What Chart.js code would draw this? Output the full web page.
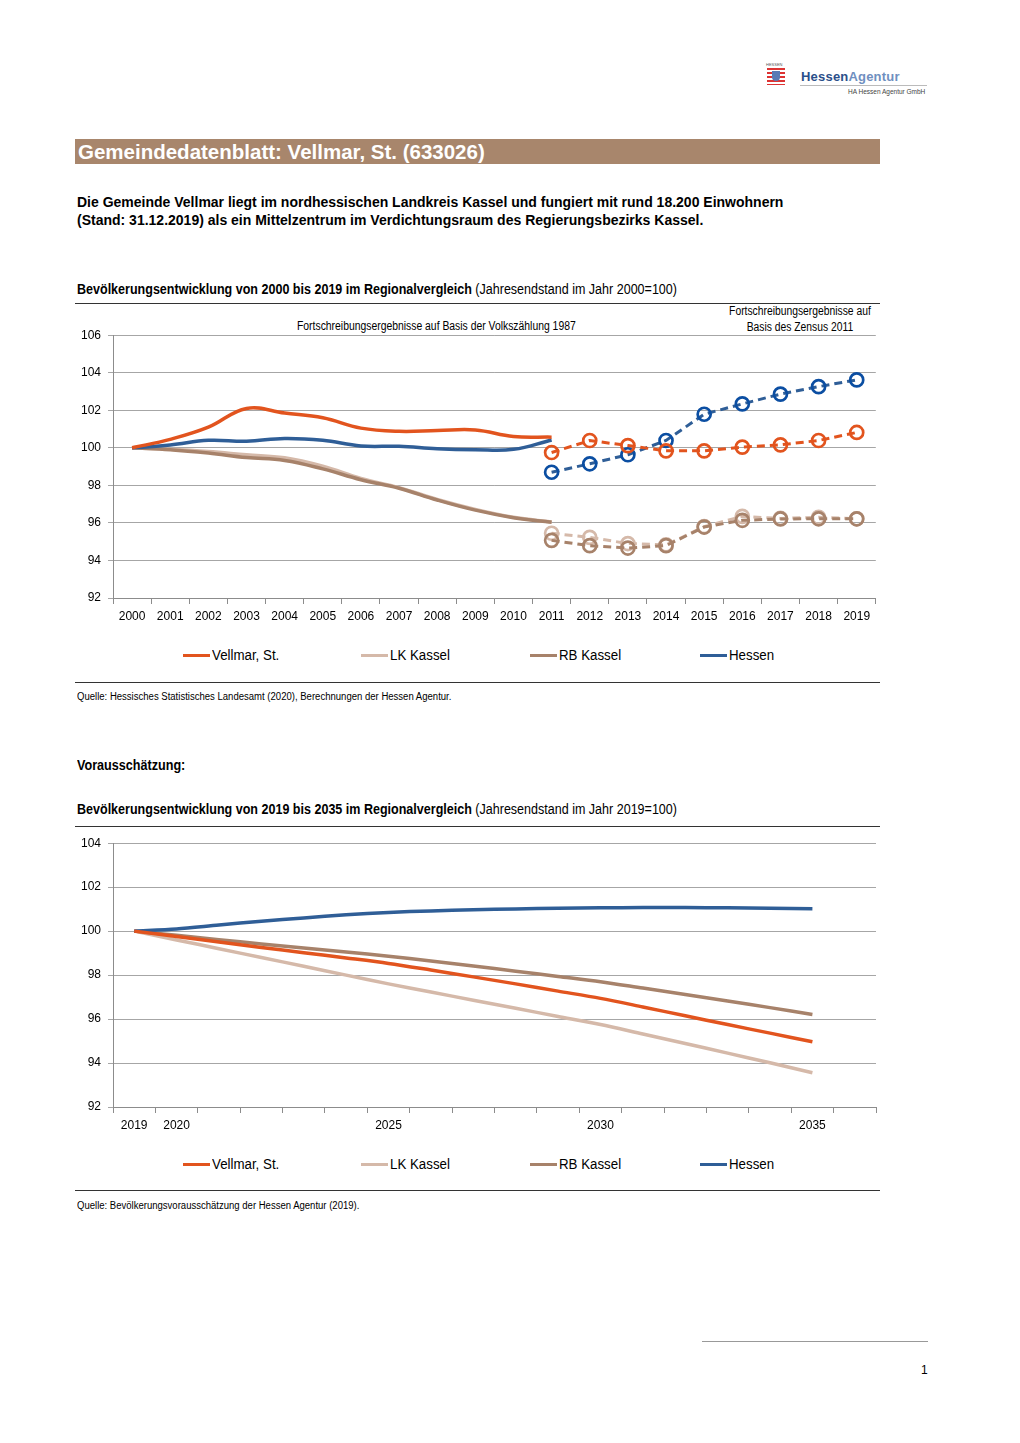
<!DOCTYPE html>
<html lang="de">
<head>
<meta charset="utf-8">
<title>Gemeindedatenblatt: Vellmar, St. (633026)</title>
<script src="https://cdn.jsdelivr.net/npm/chart.js@4.4.1/dist/chart.umd.min.js"></script>
<style>
  body { margin: 0; background: #fff; font-family: "Liberation Sans", Arial, sans-serif; color: #000; }
  .page { position: relative; width: 1020px; height: 1443px; overflow: hidden; }
  .abs { position: absolute; white-space: nowrap; transform-origin: left top; }
  .rule { position: absolute; height: 0; border-top: 1px solid #555; }
  .legend-line { position: absolute; height: 3px; }
  .legend-text { position: absolute; font-size: 14px; line-height: 16px; white-space: nowrap;
                 transform-origin: left top; transform: scaleX(0.95); }
</style>
</head>
<body>
<div class="page">

  <!-- Logo -->
  <div class="abs" style="left:766px; top:63px; font-size:4px; line-height:4px; color:#555;">HESSEN</div>
  <div class="abs" style="left:767px; top:68px; width:18px; height:17px; background: repeating-linear-gradient(#d33 0 2px, #fff 2px 4px);"></div>
  <div class="abs" style="left:772px; top:71px; width:8px; height:10px; background:#5a7bb5; border-radius:0 0 4px 4px;"></div>
  <div class="abs" style="left:801px; top:69px; font-size:13px; line-height:16px; font-weight:bold; letter-spacing:0.2px;"><span style="color:#2b4f8a;">Hessen</span><span style="color:#6f8fc0;">Agentur</span></div>
  <div class="rule" style="left:800px; top:85px; width:127px; border-color:#bbb;"></div>
  <div class="abs" style="left:848px; top:88px; font-size:6.5px; line-height:7px; color:#444;">HA Hessen Agentur GmbH</div>

  <!-- Title bar -->
  <div class="abs" style="left:75px; top:139px; width:805px; height:25px; background:#a8866c;"></div>
  <div class="abs" style="left:78px; top:140px; font-size:20.5px; line-height:24px; font-weight:bold; color:#fff;">Gemeindedatenblatt: Vellmar, St. (633026)</div>

  <!-- Intro -->
  <div class="abs" style="left:77px; top:193px; font-size:14px; line-height:18px; font-weight:bold;">Die Gemeinde Vellmar liegt im nordhessischen Landkreis Kassel und fungiert mit rund 18.200 Einwohnern<br>(Stand: 31.12.2019) als ein Mittelzentrum im Verdichtungsraum des Regierungsbezirks Kassel.</div>

  <!-- Chart 1 -->
  <div class="abs" style="left:77px; top:281px; font-size:14px; line-height:16px; transform:scaleX(0.895);"><b>Bevölkerungsentwicklung von 2000 bis 2019 im Regionalvergleich</b> (Jahresendstand im Jahr 2000=100)</div>
  <div class="rule" style="left:75px; top:303px; width:805px; border-color:#333;"></div>
  <div class="abs" style="left:297px; top:319px; font-size:12px; line-height:14px; transform:scaleX(0.865);">Fortschreibungsergebnisse auf Basis der Volkszählung 1987</div>
  <div class="abs" style="left:729px; top:303px; width:165px; font-size:12px; line-height:16px; text-align:center; transform:scaleX(0.86);">Fortschreibungsergebnisse auf<br>Basis des Zensus 2011</div>
  <div class="abs" style="left:75px; top:321px; width:810px; height:307px;"><canvas id="chart1"></canvas></div>
  <div id="legend1"></div>
  <div class="rule" style="left:75px; top:682px; width:805px; border-color:#333;"></div>
  <div class="abs" style="left:77px; top:691px; font-size:10px; line-height:12px; transform:scaleX(0.954);">Quelle: Hessisches Statistisches Landesamt (2020), Berechnungen der Hessen Agentur.</div>

  <!-- Chart 2 -->
  <div class="abs" style="left:77px; top:757px; font-size:14px; line-height:16px; font-weight:bold; transform:scaleX(0.9);">Vorausschätzung:</div>
  <div class="abs" style="left:77px; top:801px; font-size:14px; line-height:16px; transform:scaleX(0.895);"><b>Bevölkerungsentwicklung von 2019 bis 2035 im Regionalvergleich</b> (Jahresendstand im Jahr 2019=100)</div>
  <div class="rule" style="left:75px; top:826px; width:805px; border-color:#333;"></div>
  <div class="abs" style="left:75px; top:829px; width:804px; height:308px;"><canvas id="chart2"></canvas></div>
  <div id="legend2"></div>
  <div class="rule" style="left:75px; top:1190px; width:805px; border-color:#333;"></div>
  <div class="abs" style="left:77px; top:1200px; font-size:10px; line-height:12px; transform:scaleX(0.953);">Quelle: Bevölkerungsvorausschätzung der Hessen Agentur (2019).</div>

  <!-- Footer -->
  <div class="rule" style="left:702px; top:1341px; width:226px; border-color:#999;"></div>
  <div class="abs" style="left:921px; top:1363px; font-size:12px; line-height:14px;">1</div>
</div>

<script>
// --- Daten: Entwicklung 2000-2019 (2000 = 100) ---
const years1 = ['2000','2001','2002','2003','2004','2005','2006','2007','2008','2009',
                '2010','2011','2012','2013','2014','2015','2016','2017','2018','2019'];

// Basis Volkszaehlung 1987 (2000-2011)
const vellmarAlt = [100, 100.45, 101.1, 102.1, 101.85, 101.6, 101.05, 100.88, 100.92, 100.95, 100.6, 100.57];
const lkKasselAlt = [100, 99.92, 99.8, 99.63, 99.47, 99.02, 98.37, 97.88, 97.25, 96.72, 96.3, 96.05];
const rbKasselAlt = [100, 99.9, 99.72, 99.48, 99.33, 98.88, 98.3, 97.85, 97.22, 96.68, 96.28, 96.03];
const hessenAlt = [100, 100.15, 100.4, 100.35, 100.5, 100.4, 100.1, 100.08, 99.95, 99.9, 99.92, 100.42];

// Basis Zensus 2011 (2011-2019)
const vellmarNeu = [99.75, 100.39, 100.12, 99.84, 99.84, 100.04, 100.16, 100.39, 100.82];
const lkKasselNeu = [95.45, 95.23, 94.9, 94.83, 95.8, 96.35, 96.24, 96.3, 96.22];
const rbKasselNeu = [95.07, 94.79, 94.66, 94.79, 95.78, 96.14, 96.21, 96.22, 96.22];
const hessenNeu = [98.7, 99.15, 99.63, 100.39, 101.79, 102.34, 102.86, 103.26, 103.62];

// --- Daten: Vorausschaetzung 2019-2035 (2019 = 100) ---
const years2 = ['2019','2020','2021','2022','2023','2024','2025','2026','2027','2028',
                '2029','2030','2031','2032','2033','2034','2035','2036'];
const years2Labels = ['2019', '2020', '2025', '2030', '2035'];
const vellmarProg = [100, 99.76, 99.51, 99.26, 99.02, 98.78, 98.53, 98.23, 97.92, 97.6, 97.27, 96.94, 96.55, 96.15, 95.75, 95.36, 94.97];
const lkKasselProg = [100, 99.6, 99.2, 98.8, 98.4, 98.0, 97.6, 97.23, 96.86, 96.49, 96.12, 95.75, 95.32, 94.89, 94.45, 94.01, 93.56];
const rbKasselProg = [100, 99.81, 99.61, 99.42, 99.23, 99.05, 98.86, 98.64, 98.41, 98.18, 97.94, 97.7, 97.41, 97.12, 96.82, 96.52, 96.21];
const hessenProg = [100, 100.1, 100.28, 100.45, 100.6, 100.74, 100.85, 100.92, 100.97, 101.01, 101.04, 101.06, 101.07, 101.07, 101.06, 101.04, 101.02];

const seriesNames = ['Vellmar, St.', 'LK Kassel', 'RB Kassel', 'Hessen'];
const seriesColors = ['#e2541e', '#d5b9a9', '#a7826a', '#2f5e97'];
const markerColors = ['#e2541e', '#d5b9a9', '#a7826a', '#0b4ea2'];

const chartFont = '"Liberation Sans", Arial, sans-serif';

// Alt-Reihe auf 20 Jahre auffuellen, Neu-Reihe ab 2011 einsetzen
function padAlt(arr) {
    return arr.concat(new Array(years1.length - arr.length).fill(null));
}
function padNeu(arr) {
    return new Array(years1.length - arr.length).fill(null).concat(arr);
}

function solid(label, data, color, tension) {
    return {
        label: label, data: data, borderColor: color, backgroundColor: color,
        borderWidth: 3.5, pointRadius: 0, tension: tension, spanGaps: false
    };
}
function dashed(label, data, color, marker) {
    return {
        label: label, data: data, borderColor: color, backgroundColor: color,
        borderWidth: 3, borderDash: [8, 5], tension: 0,
        pointStyle: 'circle', pointRadius: 6.5, pointBorderWidth: 2.7,
        pointBorderColor: marker, pointBackgroundColor: 'rgba(0,0,0,0)'
    };
}

function axisOptions(yMin, yMax, tickFilter) {
    return {
        x: {
            offset: true,
            grid: { offset: true, drawOnChartArea: false, drawTicks: true, tickLength: 6, color: '#8c8c8c' },
            border: { color: '#8c8c8c' },
            ticks: {
                autoSkip: false, maxRotation: 0, padding: 5, color: '#000',
                font: { family: chartFont, size: 12 },
                callback: function (value) {
                    const lbl = this.getLabelForValue(value);
                    return tickFilter ? (tickFilter.includes(lbl) ? lbl : '') : lbl;
                }
            },
            afterFit: (scale) => { scale.height = 30; }
        },
        y: {
            min: yMin, max: yMax,
            grid: { color: '#a6a6a6', tickLength: 5 },
            border: { color: '#8c8c8c' },
            ticks: { stepSize: 2, padding: 7, color: '#000', font: { family: chartFont, size: 12 } },
            afterFit: (scale) => { scale.width = 38; }
        }
    };
}

const baseOptions = {
    responsive: true,
    maintainAspectRatio: false,
    animation: false,
    events: [],
    layout: { padding: { top: 6, right: 3, left: 0, bottom: 0 } },
    plugins: { legend: { display: false }, tooltip: { enabled: false } }
};

// Chart 1: 2000-2019 (erstes Dataset liegt oben)
new Chart(document.getElementById('chart1'), {
    type: 'line',
    data: {
        labels: years1,
        datasets: [
            solid(seriesNames[0], padAlt(vellmarAlt), seriesColors[0], 0.4),
            solid(seriesNames[3], padAlt(hessenAlt), seriesColors[3], 0.4),
            solid(seriesNames[2], padAlt(rbKasselAlt), seriesColors[2], 0.4),
            solid(seriesNames[1], padAlt(lkKasselAlt), seriesColors[1], 0.4),
            dashed(seriesNames[0], padNeu(vellmarNeu), seriesColors[0], markerColors[0]),
            dashed(seriesNames[3], padNeu(hessenNeu), seriesColors[3], markerColors[3]),
            dashed(seriesNames[2], padNeu(rbKasselNeu), seriesColors[2], markerColors[2]),
            dashed(seriesNames[1], padNeu(lkKasselNeu), seriesColors[1], markerColors[1])
        ]
    },
    options: Object.assign({}, baseOptions, { scales: axisOptions(92, 106, null) })
});

// Chart 2: Vorausschaetzung 2019-2035
new Chart(document.getElementById('chart2'), {
    type: 'line',
    data: {
        labels: years2,
        datasets: [
            solid(seriesNames[0], vellmarProg, seriesColors[0], 0.3),
            solid(seriesNames[3], hessenProg, seriesColors[3], 0.3),
            solid(seriesNames[2], rbKasselProg, seriesColors[2], 0.3),
            solid(seriesNames[1], lkKasselProg, seriesColors[1], 0.3)
        ]
    },
    options: Object.assign({}, baseOptions, { scales: axisOptions(92, 104, years2Labels) })
});

// Legenden (HTML, wie im Original verteilt)
function buildLegend(containerId, centerY) {
    const lineStarts = [183, 361, 530, 700];
    const box = document.getElementById(containerId);
    seriesNames.forEach((name, i) => {
        const line = document.createElement('div');
        line.className = 'legend-line';
        line.style.cssText = `left:${lineStarts[i]}px; top:${centerY - 1}px; width:27px; background:${seriesColors[i]};`;
        const text = document.createElement('div');
        text.className = 'legend-text';
        text.style.left = (lineStarts[i] + 29) + 'px';
        text.style.top = (centerY - 8) + 'px';
        text.textContent = name;
        box.appendChild(line);
        box.appendChild(text);
    });
}
buildLegend('legend1', 655);
buildLegend('legend2', 1164);
</script>
</body>
</html>
